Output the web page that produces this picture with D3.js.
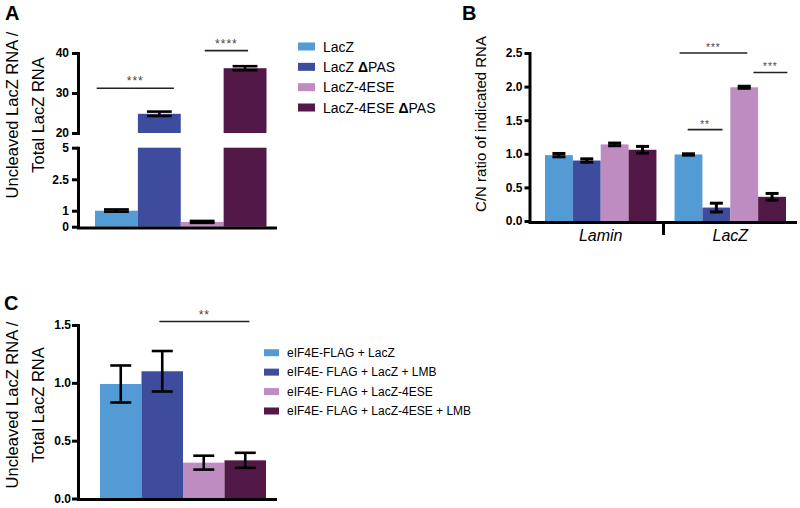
<!DOCTYPE html>
<html><head><meta charset="utf-8">
<script src="https://cdn.jsdelivr.net/npm/d3@7"></script>
<style>
body{margin:0;background:#fff;}
text{font-family:"Liberation Sans",Arial,Helvetica,sans-serif;}
</style>
</head><body>
<svg id="chart" width="800" height="508"></svg>
<script>
// ---------------- data ----------------
const seriesA = ["LacZ", "LacZ \u0394PAS", "LacZ-4ESE", "LacZ-4ESE \u0394PAS"];
const colors = ["#539bd5", "#3d4c9c", "#be8cc0", "#521948"];
const valuesA = [1.0, 24.8, 0.3, 36.2];
const errorsA = [0.06, 0.55, 0.06, 0.5];
const ticksAUpper = [20, 30, 40];
const ticksALower = [0, 1, 2.5, 5];
const sigA = [
  {from: 0.04, to: 1.84, y: 31.2, label: "***"},
  {from: 2.56, to: 3.57, y: 40.6, label: "****"}
];

const groupsB = ["Lamin", "LacZ"];
const valuesBLamin = [0.98, 0.90, 1.14, 1.06];
const errorsBLamin = [0.025, 0.025, 0.02, 0.05];
const valuesBLacZ = [0.99, 0.20, 1.99, 0.36];
const errorsBLacZ = [0.01, 0.065, 0.015, 0.05];
const ticksB = [0, 0.5, 1.0, 1.5, 2.0, 2.5];
const sigB = [
  {from: 0.18, to: 2.61, y: 2.5, label: "***"},
  {from: 2.83, to: 4.05, y: 2.21, label: "***"},
  {from: 0.47, to: 1.72, y: 1.36, label: "**"}
];

const seriesC = ["eIF4E-FLAG + LacZ", "eIF4E- FLAG + LacZ + LMB", "eIF4E- FLAG + LacZ-4ESE", "eIF4E- FLAG + LacZ-4ESE + LMB"];
const valuesC = [0.99, 1.10, 0.31, 0.33];
const errorsC = [0.16, 0.175, 0.06, 0.065];
const ticksC = [0, 0.5, 1.0, 1.5];
const sigC = [{from: 1.43, to: 3.6, y: 1.53, label: "**"}];

// ---------------- helpers ----------------
const svg = d3.select("#chart");
const FONT_TICK = "bold 12px 'Liberation Sans', Arial, sans-serif";

function styleAxis(g, w) {
  g.select(".domain").attr("stroke", "#000").attr("stroke-width", w).attr("stroke-linecap", "square");
  g.selectAll(".tick line").attr("stroke", "#000").attr("stroke-width", w);
  g.selectAll(".tick text").attr("fill", "#000").style("font", FONT_TICK);
}
function errorBar(g, cx, yTop, yBot, capW, sw) {
  g.append("line").attr("x1", cx).attr("x2", cx).attr("y1", yTop).attr("y2", yBot)
    .attr("stroke", "#000").attr("stroke-width", sw);
  [yTop, yBot].forEach(y => g.append("line").attr("x1", cx - capW / 2).attr("x2", cx + capW / 2)
    .attr("y1", y).attr("y2", y).attr("stroke", "#000").attr("stroke-width", sw));
}
function sigLine(g, x1, x2, y, label, fs, dy) {
  g.append("line").attr("x1", x1).attr("x2", x2).attr("y1", y).attr("y2", y)
    .attr("stroke", "#222").attr("stroke-width", 1.6);
  g.append("text").attr("x", (x1 + x2) / 2).attr("y", y - dy).attr("text-anchor", "middle")
    .style("font-size", fs + "px").style("letter-spacing", "1px").attr("fill", "#444").text(label);
}
function yLabel2(g, cx1, cx2, cy, l1, l2) {
  g.append("text").attr("transform", `translate(${cx1},${cy}) rotate(-90)`).attr("text-anchor", "middle")
    .style("font-size", "16.5px").text(l1);
  g.append("text").attr("transform", `translate(${cx2},${cy}) rotate(-90)`).attr("text-anchor", "middle")
    .style("font-size", "16.5px").text(l2);
}
function panelLetter(x, y, t) {
  svg.append("text").attr("x", x).attr("y", y).style("font", "bold 20px 'Liberation Sans', Arial, sans-serif").text(t);
}

// ---------------- Panel A ----------------
{
  const g = svg.append("g");
  const x = d3.scaleBand().domain(d3.range(seriesA.length)).range([95, 266.5]).padding(0);
  const yU = d3.scaleLinear().domain([20, 40]).range([133, 53]);
  const yL = d3.scaleLinear().domain(ticksALower).range([226.7, 210.7, 179.3, 147.7]);
  const bw = x.bandwidth();

  seriesA.forEach((s, i) => {
    const v = valuesA[i];
    g.append("rect").attr("x", x(i)).attr("width", bw)
      .attr("y", yL(Math.min(v, 5))).attr("height", yL(0) - yL(Math.min(v, 5)))
      .attr("fill", colors[i]);
    if (v > 20) {
      g.append("rect").attr("x", x(i)).attr("width", bw)
        .attr("y", yU(v)).attr("height", yU(20) - yU(v)).attr("fill", colors[i]);
    }
  });
  seriesA.forEach((s, i) => {
    const v = valuesA[i], e = errorsA[i];
    const sc = v > 20 ? yU : yL;
    errorBar(g, x(i) + bw / 2, sc(v + e), sc(v - e), bw * 0.58, 2.6);
  });
  const axU = g.append("g").attr("transform", "translate(78,0)")
    .call(d3.axisLeft(yU).tickValues(ticksAUpper).tickSize(6).tickSizeOuter(0).tickPadding(3));
  styleAxis(axU, 3);
  const axL = g.append("g").attr("transform", "translate(78,0)")
    .call(d3.axisLeft(yL).tickValues(ticksALower).tickFormat(d3.format("~g")).tickSize(6).tickSizeOuter(0).tickPadding(3));
  styleAxis(axL, 3);
  const axX = g.append("g").attr("transform", "translate(0,227.5)")
    .call(d3.axisBottom(d3.scaleLinear().domain([0, 1]).range([78, 275])).tickValues([]).tickSizeOuter(0));
  styleAxis(axX, 3);
  sigA.forEach(d => {
    const step = x.step();
    sigLine(g, x.range()[0] + d.from * step, x.range()[0] + d.to * step, yU(d.y), d.label, 12, 3);
  });
  yLabel2(g, 17.5, 43.5, 115, "Uncleaved LacZ RNA /", "Total LacZ RNA");
  const ly = d3.scalePoint().domain(seriesA).range([46.5, 107.5]);
  seriesA.forEach((s, i) => {
    g.append("rect").attr("x", 298).attr("y", ly(s) - 4).attr("width", 17).attr("height", 8).attr("fill", colors[i]);
    const t = g.append("text").attr("x", 323).attr("y", ly(s) + 5).style("font-size", "14px");
    const parts = s.split("\u0394");
    t.append("tspan").text(parts[0]);
    if (parts.length > 1) {
      t.append("tspan").style("font-weight", "bold").text("\u0394");
      t.append("tspan").text(parts[1]);
    }
  });
  panelLetter(5, 20, "A");
}

// ---------------- Panel B ----------------
{
  const g = svg.append("g");
  const x0 = d3.scaleBand().domain(groupsB).range([545, 786]).paddingInner(0.14);
  const x1 = d3.scaleBand().domain(d3.range(4)).range([0, x0.bandwidth()]).padding(0);
  const y = d3.scaleLinear().domain([0, 2.5]).range([221, 53]);
  const vals = {Lamin: valuesBLamin, LacZ: valuesBLacZ};
  const errs = {Lamin: errorsBLamin, LacZ: errorsBLacZ};
  groupsB.forEach(gr => {
    vals[gr].forEach((v, i) => {
      g.append("rect").attr("x", x0(gr) + x1(i)).attr("width", x1.bandwidth())
        .attr("y", y(v)).attr("height", y(0) - y(v)).attr("fill", colors[i]);
    });
  });
  groupsB.forEach(gr => {
    vals[gr].forEach((v, i) => {
      const e = errs[gr][i];
      errorBar(g, x0(gr) + x1(i) + x1.bandwidth() / 2, y(v + e), y(v - e), 13, 3);
    });
  });
  const axY = g.append("g").attr("transform", "translate(529.5,0)")
    .call(d3.axisLeft(y).tickValues(ticksB).tickFormat(d3.format(".1f")).tickSize(5).tickSizeOuter(0).tickPadding(2));
  styleAxis(axY, 3);
  const axX = g.append("g").attr("transform", "translate(0,222)")
    .call(d3.axisBottom(d3.scaleLinear().domain([0, 1]).range([529.5, 795])).tickValues([]).tickSizeOuter(0));
  styleAxis(axX, 3);
  const sepX = (x0("Lamin") + x0.bandwidth() + x0("LacZ")) / 2 - 2;
  g.append("line").attr("x1", sepX).attr("x2", sepX).attr("y1", 222).attr("y2", 235)
    .attr("stroke", "#000").attr("stroke-width", 3);
  groupsB.forEach(gr => {
    g.append("text").attr("x", x0(gr) + x0.bandwidth() / 2).attr("y", 241).attr("text-anchor", "middle")
      .style("font-size", "16px").style("font-style", "italic").text(gr);
  });
  sigB.forEach(d => {
    const st = x1.step();
    sigLine(g, x0("LacZ") + d.from * st, x0("LacZ") + d.to * st, y(d.y), d.label, 10, 2);
  });
  g.append("text").attr("transform", "translate(486,124) rotate(-90)").attr("text-anchor", "middle")
    .style("font-size", "15px").text("C/N ratio of indicated RNA");
  panelLetter(462, 20, "B");
}

// ---------------- Panel C ----------------
{
  const g = svg.append("g");
  const x = d3.scaleBand().domain(d3.range(seriesC.length)).range([100, 266]).padding(0);
  const y = d3.scaleLinear().domain([0, 1.5]).range([498.5, 325]);
  const bw = x.bandwidth();
  seriesC.forEach((s, i) => {
    g.append("rect").attr("x", x(i)).attr("width", bw)
      .attr("y", y(valuesC[i])).attr("height", y(0) - y(valuesC[i])).attr("fill", colors[i]);
  });
  seriesC.forEach((s, i) => {
    errorBar(g, x(i) + bw / 2, y(valuesC[i] + errorsC[i]), y(valuesC[i] - errorsC[i]), 21, 2.6);
  });
  const axY = g.append("g").attr("transform", "translate(78,0)")
    .call(d3.axisLeft(y).tickValues(ticksC).tickFormat(d3.format(".1f")).tickSize(6).tickSizeOuter(0).tickPadding(1));
  styleAxis(axY, 3);
  const axX = g.append("g").attr("transform", "translate(0,499)")
    .call(d3.axisBottom(d3.scaleLinear().domain([0, 1]).range([78, 275])).tickValues([]).tickSizeOuter(0));
  styleAxis(axX, 3);
  sigC.forEach(d => {
    const st = x.step();
    sigLine(g, x.range()[0] + d.from * st, x.range()[0] + d.to * st, y(d.y), d.label, 12, 3);
  });
  yLabel2(g, 17.5, 43.5, 405, "Uncleaved LacZ RNA /", "Total LacZ RNA");
  const ly = d3.scalePoint().domain(seriesC).range([352.7, 411]);
  seriesC.forEach((s, i) => {
    g.append("rect").attr("x", 264).attr("y", ly(s) - 3.5).attr("width", 15).attr("height", 7).attr("fill", colors[i]);
    g.append("text").attr("x", 287).attr("y", ly(s) + 4.3).style("font-size", "12px").text(s);
  });
  panelLetter(4, 310, "C");
}
</script>
</body></html>
